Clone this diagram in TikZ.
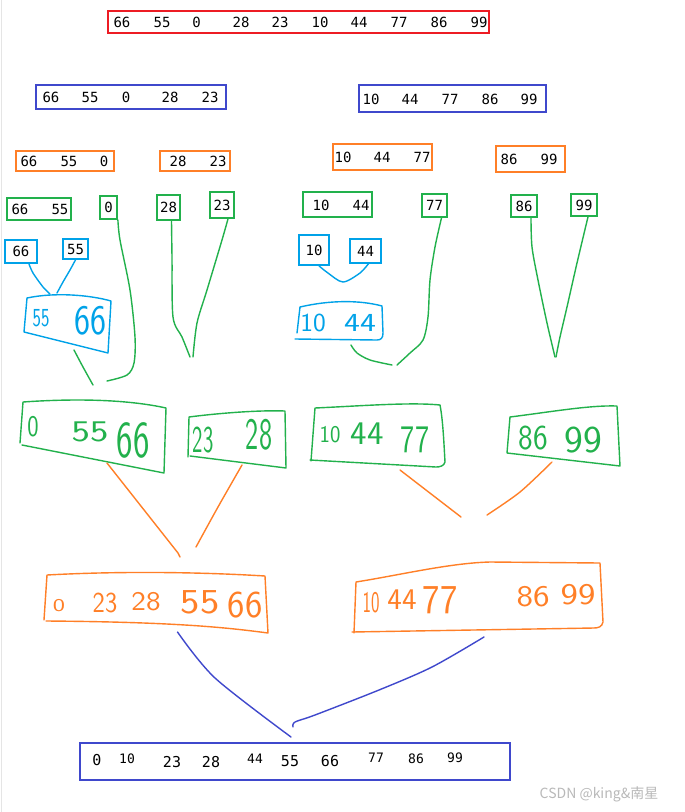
\documentclass[tikz,border=0pt]{standalone}
\usepackage{fontspec}
\usepackage{graphicx}
\newfontfamily\monofont{DejaVu Sans Mono}
\newfontfamily\cjkfont{Noto Sans CJK SC}
\definecolor{cred}{HTML}{ED1C24}
\definecolor{cindigo}{HTML}{3F48CC}
\definecolor{corange}{HTML}{FF7F27}
\definecolor{cgreen}{HTML}{22B14C}
\definecolor{cblue}{HTML}{00A2E8}
\newcommand\hwn[3]{{\fontsize{#1}{#1}\selectfont\scalebox{#2}[1]{#3}}}
\begin{document}
\begin{tikzpicture}[x=1pt,y=-1pt,
  tbox/.style={draw=#1, line width=1.8pt, inner sep=0pt, font=\monofont\fontsize{14}{14}\selectfont},
  num/.style={inner sep=0pt, font=\monofont\fontsize{14}{14}\selectfont},
  hw/.style={inner sep=0pt, text=#1, font=\sffamily},
  pen/.style={draw=#1, line width=1.4pt, line cap=round, line join=round},
  hpen/.style={draw=#1, line width=1.4pt, line cap=round, line join=round}
]
\useasboundingbox (0,0) rectangle (685,812);
\fill[white] (0,0) rectangle (685,812);
\draw[gray!20, line width=1pt] (1.5,0) -- (1.5,812);

% ---------- typed boxes ----------
\node[tbox=cred, minimum width=381pt, minimum height=22pt] (red) at (298.5,22) {};
\foreach \x/\t [count=\i] in {122/66,162/55,196.5/0,241/28,280/23,320/10,359/44,399/77,439/86,479/99}
  \node[num] (rn\i) at (\x,22) {\t};

\node[tbox=cindigo, minimum width=190pt, minimum height=24pt] (bl) at (131,97) {};
\foreach \x/\t [count=\i] in {51/66,90/55,126/0,170/28,210/23}
  \node[num] (bln\i) at (\x,97.5) {\t};
\node[tbox=cindigo, minimum width=187pt, minimum height=27pt] (br) at (452.5,98.5) {};
\foreach \x/\t [count=\i] in {371/10,410/44,450/77,490/86,529/99}
  \node[num] (brn\i) at (\x,99) {\t};

\node[tbox=corange, minimum width=98pt, minimum height=20pt] (o1) at (65,161) {};
\foreach \x/\t [count=\i] in {29/66,69/55,104/0}
  \node[num] (o1n\i) at (\x,161) {\t};
\node[tbox=corange, minimum width=70pt, minimum height=20pt] (o2) at (195,161) {};
\foreach \x/\t [count=\i] in {178/28,218/23}
  \node[num] (o2n\i) at (\x,161) {\t};
\node[tbox=corange, minimum width=99pt, minimum height=26pt] (o3) at (382.5,157) {};
\foreach \x/\t [count=\i] in {343/10,382/44,422/77}
  \node[num] (o3n\i) at (\x,157) {\t};
\node[tbox=corange, minimum width=69pt, minimum height=26pt] (o4) at (530.5,159) {};
\foreach \x/\t [count=\i] in {509/86,549/99}
  \node[num] (o4n\i) at (\x,159) {\t};

\node[tbox=cgreen, minimum width=64pt, minimum height=22pt] (g1) at (39,209) {};
\foreach \x/\t [count=\i] in {20/66,60/55}
  \node[num] (g1n\i) at (\x,209) {\t};
\node[tbox=cgreen, minimum width=17pt, minimum height=23pt] (g2) at (108.5,207.5) {0};
\node[tbox=cgreen, minimum width=23pt, minimum height=25pt] (g3) at (168.5,207.5) {28};
\node[tbox=cgreen, minimum width=24pt, minimum height=26pt] (g4) at (222,205) {23};
\node[tbox=cgreen, minimum width=69pt, minimum height=25pt] (g5) at (337.5,204.5) {};
\foreach \x/\t [count=\i] in {321/10,361/44}
  \node[num] (g5n\i) at (\x,205) {\t};
\node[tbox=cgreen, minimum width=25pt, minimum height=23pt] (g6) at (434.5,205.5) {77};
\node[tbox=cgreen, minimum width=26pt, minimum height=22pt] (g7) at (524,206) {86};
\node[tbox=cgreen, minimum width=26pt, minimum height=22pt] (g8) at (584,205) {99};

\node[tbox=cblue, minimum width=32pt, minimum height=23pt] (b1) at (21,251.5) {66};
\node[tbox=cblue, minimum width=25pt, minimum height=20pt] (b2) at (75.5,249) {55};
\node[tbox=cblue, minimum width=30pt, minimum height=30pt] (b3) at (314,250) {10};
\node[tbox=cblue, minimum width=31pt, minimum height=24pt] (b4) at (365.5,251) {44};

\node[tbox=cindigo, minimum width=430pt, minimum height=37pt] (fin) at (295,761.5) {};
\foreach \x/\y/\s/\t [count=\i] in {97/760/15/0,127/759/13/10,172/762/15/23,211/762/15/28,255/759/13/44,290/761/15/55,330/761/15/66,376/758/13/77,416/759/13/86,455/758/13/99}
  \node[inner sep=0pt, font=\monofont\fontsize{\s}{\s}\selectfont] (fn\i) at (\x,\y) {\t};

% ---------- hand-drawn boxes ----------
\draw[hpen=cblue] (24,332) -- (27,298) .. controls (55,292) and (90,295) .. (111,301) -- (108,353) -- cycle;
\draw[hpen=cblue] (297,333) -- (300,307) .. controls (330,300) and (360,300) .. (382,306) -- (383,333) .. controls (383,338) and (381,340) .. (377,340) -- (295,339);
\draw[hpen=cgreen] (20,443) -- (23,402) .. controls (80,398) and (130,400) .. (166,408) -- (164,473) -- (22,445);
\draw[hpen=cgreen] (188,457) -- (189,417) .. controls (220,413) and (260,410) .. (285,411) -- (286,468) -- (190,456);
\draw[hpen=cgreen] (311,461) -- (315,408) .. controls (360,406) and (410,402) .. (440,405) .. controls (443,420) and (444,445) .. (445,462) .. controls (444,466) and (440,467) .. (436,467) -- (310,460);
\draw[hpen=cgreen] (507,453) -- (510,417) .. controls (550,412) and (590,405) .. (617,406) -- (620,466) -- (507,453);
\draw[hpen=corange] (44,620) -- (47,575) .. controls (120,571) and (200,572) .. (265,576) -- (268,633) .. controls (230,628) and (180,622) .. (46,621);
\draw[hpen=corange] (354,633) -- (356,582) .. controls (400,575) and (450,563) .. (490,562) -- (600,563) -- (603,622) .. controls (602,627) and (598,628) .. (594,628) -- (352,632);

% ---------- handwritten numbers ----------
\foreach \x/\y/\s/\k/\t [count=\i] in {41/318/26/0.69/55, 90/321/42/0.81/66}
  \node[hw=cblue] (hb1n\i) at (\x,\y) {\hwn{\s}{\k}{\t}};
\foreach \x/\y/\s/\k/\t [count=\i] in {313/323/26/1.04/10, 360/323/26/1.3/44}
  \node[hw=cblue] (hb2n\i) at (\x,\y) {\hwn{\s}{\k}{\t}};
\foreach \x/\y/\s/\k/\t [count=\i] in {33/427/30/0.8/0, 90/432/30/1.3/55, 133/440/52/0.67/66}
  \node[hw=cgreen] (hg1n\i) at (\x,\y) {\hwn{\s}{\k}{\t}};
\foreach \x/\y/\s/\k/\t [count=\i] in {203/440/38/0.58/23, 259/435/45/0.62/28}
  \node[hw=cgreen] (hg2n\i) at (\x,\y) {\hwn{\s}{\k}{\t}};
\foreach \x/\y/\s/\k/\t [count=\i] in {330/435/24/0.92/10, 367/434/33/1.06/44, 415/440/39/0.77/77}
  \node[hw=cgreen] (hg3n\i) at (\x,\y) {\hwn{\s}{\k}{\t}};
\foreach \x/\y/\s/\k/\t [count=\i] in {533/438/35/0.89/86, 583/440/38/1.05/99}
  \node[hw=cgreen] (hg4n\i) at (\x,\y) {\hwn{\s}{\k}{\t}};
\foreach \x/\y/\s/\k/\t [count=\i] in {59/606/18/1.44/0, 105/603/29/0.9/23, 146/602/27/1.15/28, 200/602/35/1.17/55, 245/605/38/0.97/66}
  \node[hw=corange] (ho1n\i) at (\x,\y) {\hwn{\s}{\k}{\t}};
\foreach \x/\y/\s/\k/\t [count=\i] in {371/603/30/0.6/10, 402/600/30/1.03/44, 440/600/41/0.9/77, 533/597/30/1.17/86, 578/595/30/1.23/99}
  \node[hw=corange] (ho2n\i) at (\x,\y) {\hwn{\s}{\k}{\t}};

% ---------- connectors ----------
\draw[pen=cblue] plot[smooth] coordinates {([xshift=8pt]b1.south) (33,273) (43,287) (50,294)};
\draw[pen=cblue] plot[smooth] coordinates {(b2.south) (70,270) (63,282) (57,293)};
\draw[pen=cblue] plot[smooth] coordinates {([xshift=5pt]b3.south) (328,273) (343,282) (360,273) (369,263)};

\draw[pen=cgreen] plot[smooth] coordinates {(g2.south east) (120,240) (130,290) (135,337) (134,363) (127,375) (107,381)};
\draw[pen=cgreen] plot[smooth] coordinates {(74,350) (83,367) (93,385)};
\draw[pen=cgreen] plot[smooth] coordinates {([xshift=3pt]g3.south) (172,257) (173,317) (182,337) (190,357)};
\draw[pen=cgreen] plot[smooth] coordinates {([xshift=6pt]g4.south) (222,240) (207,290) (197,323) (193,357)};
\draw[pen=cgreen] plot[smooth] coordinates {(351,345) (357,353) (370,360) (392,365)};
\draw[pen=cgreen] plot[smooth] coordinates {([xshift=7pt]g6.south) (435,247) (430,280) (428,317) (423,340) (410,353) (397,365)};
\draw[pen=cgreen] plot[smooth] coordinates {([xshift=7pt]g7.south) (532,247) (538,280) (547,323) (555,357)};
\draw[pen=cgreen] plot[smooth] coordinates {([xshift=4pt]g8.south) (577,263) (567,307) (560,337) (556,357)};

\draw[pen=corange] (107,463) -- (178,553) -- (180,557);
\draw[pen=corange] plot[smooth] coordinates {(242,465) (218,507) (196,547)};
\draw[pen=corange] (400,470) -- (461,517);
\draw[pen=corange] plot[smooth] coordinates {(552,462) (520,492) (487,515)};

\draw[pen=cindigo] plot[smooth] coordinates {(177.5,632) (215,678) (291,737)};
\draw[pen=cindigo] plot[smooth] coordinates {(484,637) (432,667) (379,690) (315,715) (295,722) (293,727)};

\node[text=gray!55, inner sep=0pt, font=\cjkfont\fontsize{14}{14}\selectfont] (wm) at (599,794) {CSDN @king\&南星};
\end{tikzpicture}
\end{document}
